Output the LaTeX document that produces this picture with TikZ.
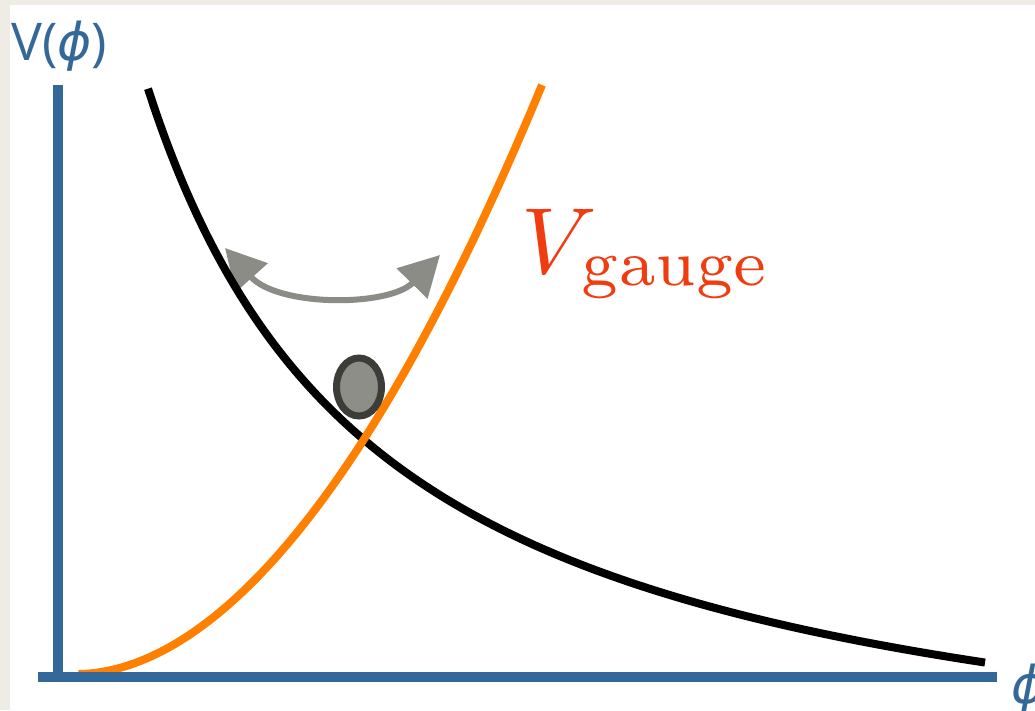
\documentclass[tikz,border=0pt]{standalone}
\usepackage{fix-cm}
\usepackage{fontspec}
\usetikzlibrary{arrows.meta,shapes.geometric}
\newfontfamily\axisfont{Open Sans}
\newfontfamily\phifont{DejaVu Sans}
\font\vgfont=cmmi10 at 94pt
\font\ggfont=cmr7 at 65pt
\definecolor{axisblue}{HTML}{346899}
\definecolor{curveorange}{HTML}{FF8000}
\definecolor{arrowgray}{HTML}{8B8C86}
\definecolor{ballfill}{HTML}{8D8E88}
\definecolor{ballborder}{HTML}{3C3C38}
\definecolor{labelred}{HTML}{F03C0E}
\definecolor{bgbeige}{HTML}{EEECE4}
\begin{document}
\begin{tikzpicture}[x=1pt,y=-1pt,
  axisline/.style={line width=10pt, draw=axisblue},
  curveline/.style={line width=8pt},
  swing/.style={draw=arrowgray, line width=6pt,
    {Triangle[length=40pt,width=42pt]}-{Triangle[length=40pt,width=42pt]}},
  ballnode/.style={ellipse, draw=ballborder, fill=ballfill, line width=7pt,
    minimum width=45pt, minimum height=58pt, inner sep=0pt},
  axislabel/.style={text=axisblue, inner sep=0pt, anchor=base west,
    font=\axisfont\fontsize{52}{60}\selectfont},
  redlabel/.style={text=labelred, inner sep=0pt, anchor=base west}]
\useasboundingbox (0,0) rectangle (1035,710);
\fill[bgbeige] (0,0) rectangle (1035,710);
\fill[white] (10,5) rectangle (1035,710);
% swing arrow
\coordinate (al) at (225,248);
\coordinate (ar) at (440,255);
\draw[swing] (al) .. controls (278,307) and (389,307) .. (ar);
% black curve
\draw[curveline, black] plot[domain=148:985, samples=120, smooth]
  (\x, {825 - 1745/((\x+89)/100)});
% orange curve
\draw[curveline, curveorange] plot[domain=78.5:542, samples=120, smooth]
  (\x, {674 - 31.9*(((\x-78)/100)^1.9)});
% ball
\node[ballnode] (ball) at (359,387) {};
% axes
\coordinate (yt) at (58,85);
\coordinate (yb) at (58,677);
\coordinate (xl) at (38,677);
\coordinate (xr) at (997,677);
\draw[axisline] (yt) -- (yb);
\draw[axisline] (xl) -- (xr);
% labels
\node[axislabel] (vlab) at (11,60) {V({\phifont\itshape ϕ})};
\node[axislabel] (philab) at (1011,703) {{\phifont\itshape ϕ}};
\node[redlabel] (vgauge) at (521,273) {\vgfont V};
\node[redlabel] (gaugesub) at (581,285) {\ggfont gauge};
\end{tikzpicture}
\end{document}
